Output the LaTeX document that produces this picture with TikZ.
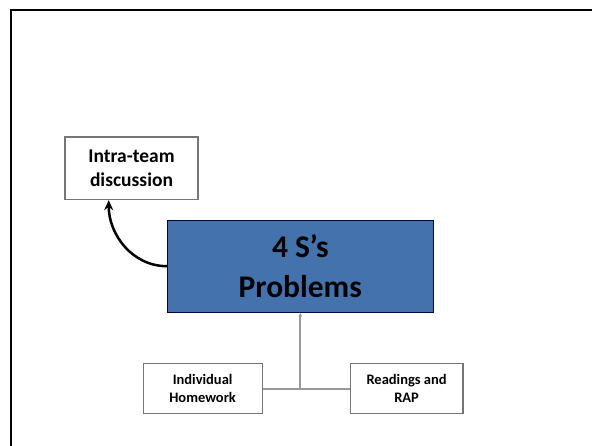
\documentclass[tikz,border=0pt]{standalone}
\usepackage{fontspec}
\setmainfont{Carlito}
\usetikzlibrary{positioning,arrows.meta}
\definecolor{probblue}{RGB}{67,114,173}
\definecolor{boxgray}{RGB}{118,118,118}
\tikzset{probbox/.style={rectangle,draw=black!75!blue,fill=probblue,line width=0.8pt,minimum width=266pt,minimum height=92pt,inner sep=0pt,align=center,font=\bfseries\fontsize{31.5}{40}\selectfont},
	 talkbox/.style={rectangle,draw=boxgray,line width=1.2pt,minimum width=133pt,minimum height=62.5pt,inner sep=0pt,align=center,font=\bfseries\fontsize{19.5}{24}\selectfont},
	 srcbox/.style={rectangle,draw=boxgray,line width=1.2pt,minimum height=50pt,inner sep=0pt,align=center,font=\bfseries\fontsize{14.5}{18}\selectfont},
	 feed/.style={draw=black!40,line width=2pt}
	 }
\begin{document}
\begin{tikzpicture}[x=1pt,y=-1pt] % 4 S's problems and their inputs
	\useasboundingbox (0,0) rectangle (592,446);
	\draw[line width=2pt] (592,10.3) -- (11,10.3) -- (11,446);
	\node[probbox] (prob) at (300.3,266.2) {4 S’s\\Problems};
	\node[talkbox] (talk) at (131.5,168.3) {Intra-team\\discussion};
	\node[srcbox, minimum width=119pt] (hw) at (202.6,388.7) {Individual\\Homework};
	\node[srcbox, minimum width=112.6pt] (rap) at (406.6,388.7) {Readings and\\RAP};
	\coordinate (jn) at (prob.south |- hw.east);
	\draw[feed] (hw) -- (rap);
	\draw[feed, -{Latex[length=4pt,width=4pt]}] (jn) -- (prob);
	\draw[line width=2.5pt, -{Stealth[length=10pt,width=9pt]}] (prob.west) to[out=180,in=-90] ([xshift=-22.8pt]talk.south);
\end{tikzpicture}
\end{document}
